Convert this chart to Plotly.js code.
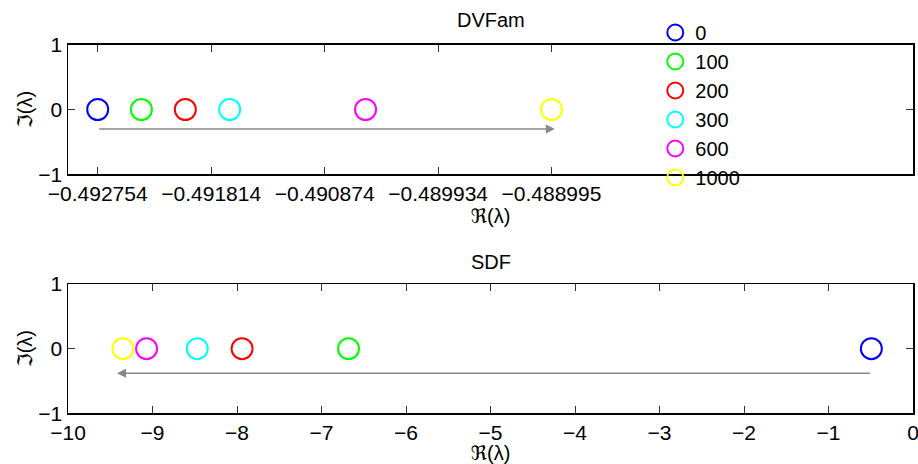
<!DOCTYPE html>
<html>
<head>
<meta charset="utf-8">
<script src="https://cdn.plot.ly/plotly-3.0.1.min.js"></script>
<style>html,body{margin:0;padding:0;background:#fff;}#chart{width:918px;height:464px;}</style>
</head>
<body>
<div id="chart"></div>
<script>
// Series labels (legend) and colours
const seriesLabels = ['0', '100', '200', '300', '600', '1000'];
const seriesColors = ['#0000ff', '#00ff00', '#ff0000', '#00ffff', '#ff00ff', '#ffff00'];

// Eigenvalues, DVFam (real and imaginary parts)
const dvfamRe = [-0.492754, -0.492392, -0.492028, -0.491661, -0.490535, -0.488995];
const dvfamIm = [0, 0, 0, 0, 0, 0];

// Eigenvalues, SDF (real and imaginary parts)
const sdfRe = [-0.492754, -6.68, -7.94, -8.47, -9.07, -9.35];
const sdfIm = [0, 0, 0, 0, 0, 0];

// Top axis tick values / labels
const dvfamTickVals = [-0.492754, -0.491814, -0.490874, -0.489934, -0.488995];
const dvfamTickText = ['\u22120.492754', '\u22120.491814', '\u22120.490874', '\u22120.489934', '\u22120.488995'];

// Bottom axis ticks
const sdfTickVals = [-10, -9, -8, -7, -6, -5, -4, -3, -2, -1, 0];
const sdfTickText = ['\u221210', '\u22129', '\u22128', '\u22127', '\u22126', '\u22125', '\u22124', '\u22123', '\u22122', '\u22121', '0'];

const yTickVals = [-1, 0, 1];
const yTickText = ['\u22121', '0', '1'];

// Trend arrows (tail -> head), data coordinates
const dvfamArrow = {x0: -0.492754, x1: -0.488967, y: -0.3};
const sdfArrow = {x0: -0.492754, x1: -9.42, y: -0.38};

const FONT = 'Liberation Sans, Arial, DejaVu Sans, sans-serif';
const FS = 21;
const TFS = 20;

const traces = [];
seriesLabels.forEach((lab, i) => {
  traces.push({
    x: [dvfamRe[i]], y: [dvfamIm[i]], xaxis: 'x', yaxis: 'y',
    type: 'scatter', mode: 'markers', name: lab, legendgroup: lab,
    marker: {symbol: 'circle-open', size: 21, color: seriesColors[i], line: {width: 2, color: seriesColors[i]}},
    showlegend: true
  });
});
seriesLabels.forEach((lab, i) => {
  traces.push({
    x: [sdfRe[i]], y: [sdfIm[i]], xaxis: 'x2', yaxis: 'y2',
    type: 'scatter', mode: 'markers', name: lab, legendgroup: lab,
    marker: {symbol: 'circle-open', size: 21, color: seriesColors[i], line: {width: 2, color: seriesColors[i]}},
    showlegend: false
  });
});

const axCommon = {
  showgrid: false, zeroline: false, showline: true, linecolor: '#000', linewidth: 1.5,
  mirror: 'ticks', ticks: 'inside', ticklen: 7, tickwidth: 1, tickcolor: '#333',
  tickfont: {family: FONT, size: FS, color: '#000'}, tickmode: 'array',
  ticklabeloverflow: 'allow'
};

const layout = {
  width: 918, height: 464,
  margin: {l: 68, r: 5, t: 0, b: 0},
  paper_bgcolor: '#fff', plot_bgcolor: '#fff',
  font: {family: FONT, size: FS, color: '#000'},
  xaxis: Object.assign({}, axCommon, {
    domain: [0, 1], anchor: 'y', range: [-0.493, -0.486],
    tickvals: dvfamTickVals, ticktext: dvfamTickText,
    title: {text: '\u211C(\u03BB)', font: {family: FONT, size: TFS}, standoff: 0}
  }),
  yaxis: Object.assign({}, axCommon, {
    domain: [1 - 174.3 / 464, 1 - 44.7 / 464], anchor: 'x', range: [-1, 1],
    tickvals: yTickVals, ticktext: yTickText,
    title: {text: '\u2111(\u03BB)', font: {family: FONT, size: TFS}, standoff: 0}
  }),
  xaxis2: Object.assign({}, axCommon, {
    domain: [0, 1], anchor: 'y2', range: [-10, 0],
    tickvals: sdfTickVals, ticktext: sdfTickText,
    title: {text: '\u211C(\u03BB)', font: {family: FONT, size: TFS}, standoff: 0}
  }),
  yaxis2: Object.assign({}, axCommon, {
    domain: [1 - 413.3 / 464, 1 - 284 / 464], anchor: 'x2', range: [-1, 1],
    tickvals: yTickVals, ticktext: yTickText,
    title: {text: '\u2111(\u03BB)', font: {family: FONT, size: TFS}, standoff: 0}
  }),
  showlegend: true,
  legend: {
    x: 0.695, y: 0.972, xanchor: 'left', yanchor: 'top',
    bgcolor: 'rgba(0,0,0,0)', borderwidth: 0,
    font: {family: FONT, size: 20, color: '#000'},
    tracegroupgap: 0
  },
  annotations: [
    {text: 'DVFam', xref: 'paper', yref: 'paper', x: 0.5, y: 1 - 20 / 464, xanchor: 'center', yanchor: 'middle', showarrow: false, font: {family: FONT, size: TFS}},
    {text: 'SDF', xref: 'paper', yref: 'paper', x: 0.5, y: 1 - 262 / 464, xanchor: 'center', yanchor: 'middle', showarrow: false, font: {family: FONT, size: TFS}},
    {x: dvfamArrow.x1, y: dvfamArrow.y, ax: dvfamArrow.x0, ay: dvfamArrow.y, xref: 'x', yref: 'y', axref: 'x', ayref: 'y',
     text: '', showarrow: true, arrowhead: 2, arrowsize: 1.2, arrowwidth: 1.5, arrowcolor: '#888'},
    {x: sdfArrow.x1, y: sdfArrow.y, ax: sdfArrow.x0, ay: sdfArrow.y, xref: 'x2', yref: 'y2', axref: 'x2', ayref: 'y2',
     text: '', showarrow: true, arrowhead: 2, arrowsize: 1.2, arrowwidth: 1.5, arrowcolor: '#888'}
  ]
};

Plotly.newPlot('chart', traces, layout, {displayModeBar: false, staticPlot: true});
</script>
</body>
</html>
